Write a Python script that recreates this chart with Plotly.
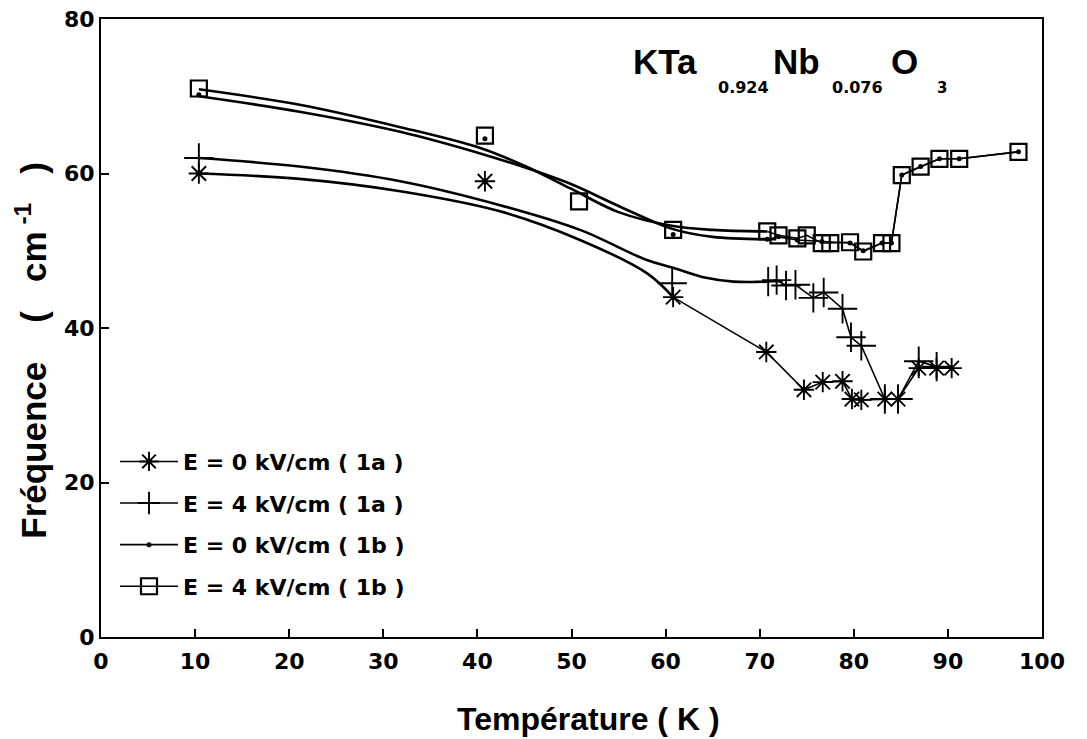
import plotly.graph_objects as go

# ---------------- data ----------------
# E = 0 kV/cm (1a)  -- asterisks
t_e0_1a = [10.4, 40.8, 60.8, 70.7, 74.7, 76.7, 78.8, 79.8, 80.8, 83.3, 84.7, 86.9, 88.8, 90.4]
f_e0_1a = [60.0, 59.0, 44.0, 36.9, 32.0, 33.0, 33.1, 30.8, 30.7, 30.8, 30.8, 34.8, 34.8, 34.8]
fit_t_e0_1a = [10.4, 21.1, 31.8, 42.4, 50.9, 58.0, 60.8]
fit_f_e0_1a = [60.0, 59.3, 57.7, 55.1, 51.4, 47.1, 44.0]

# E = 4 kV/cm (1a)  -- plus signs
t_e4_1a = [10.4, 60.7, 70.9, 71.8, 72.8, 73.8, 75.7, 76.8, 78.8, 79.7, 80.8, 83.3, 84.7, 86.9, 88.8]
f_e4_1a = [62.0, 45.8, 46.0, 46.2, 45.5, 45.6, 43.9, 44.6, 42.5, 38.8, 37.7, 30.8, 30.8, 35.7, 35.0]
fit_t_e4_1a = [10.4, 21.1, 31.8, 42.4, 50.9, 58.0, 60.8, 64.3, 67.2, 70.9]
fit_f_e4_1a = [62.0, 60.9, 59.0, 55.9, 52.7, 48.8, 47.8, 46.5, 46.0, 46.0]

# E = 0 kV/cm (1b)  -- dots
t_e0_1b = [10.4, 40.8, 60.8, 70.8, 72.0, 74.0, 76.6, 79.6, 81.0, 83.0, 84.0, 85.1, 87.1, 89.1, 91.2, 97.5]
f_e0_1b = [70.2, 64.5, 52.1, 51.5, 51.8, 51.4, 51.2, 51.0, 50.0, 51.0, 51.0, 59.8, 60.9, 61.9, 61.9, 62.8]
fit_t_e0_1b = [10.4, 21.1, 31.8, 40.3, 45.0, 50.0, 55.0, 60.8, 65.0, 70.8]
fit_f_e0_1b = [70.0, 68.0, 65.4, 62.6, 60.8, 58.6, 55.8, 52.8, 51.8, 51.5]

# E = 4 kV/cm (1b)  -- open squares
t_e4_1b = [10.4, 40.8, 50.8, 60.8, 70.8, 72.0, 74.0, 75.0, 76.6, 77.5, 79.6, 81.0, 83.0, 84.0, 85.1, 87.1, 89.1, 91.2, 97.5]
f_e4_1b = [71.0, 64.9, 56.4, 52.7, 52.5, 52.0, 51.6, 52.0, 51.0, 51.0, 51.1, 49.9, 51.0, 51.0, 59.8, 60.9, 61.9, 61.9, 62.8]
fit_t_e4_1b = [10.4, 21.1, 31.8, 40.3, 45.0, 50.0, 55.0, 60.8, 65.0, 70.8]
fit_f_e4_1b = [70.9, 68.9, 66.0, 63.3, 61.0, 58.0, 55.0, 53.2, 52.7, 52.5]

legend_labels = ["E = 0 kV/cm ( 1a )", "E = 4 kV/cm ( 1a )",
                 "E = 0 kV/cm ( 1b )", "E = 4 kV/cm ( 1b )"]

x_ticks = [0, 10, 20, 30, 40, 50, 60, 70, 80, 90, 100]
y_ticks = [0, 20, 40, 60, 80]

# ---------------- figure ----------------
BLACK = "black"
FONT = "Liberation Sans"
WIDE = "DejaVu Sans"
NB = "\u00a0"

OFF = 8  # page body margin of the browser
W, H = 1087 - OFF, 739 - OFF
L, T = 101 - OFF, 19 - OFF
R = W - (1042 - OFF)
B = H - (637.5 - OFF)
PW, PH = W - L - R, H - T - B

def px_to_paper(px, py):
    # px, py: pixel position in the screenshot
    return (px - OFF - L) / PW, (H - B - (py - OFF)) / PH

fig = go.Figure()

def add_series(name, group, t, f, fit_t, fit_f, n_left, marker):
    fig.add_trace(go.Scatter(x=fit_t, y=fit_f, mode="lines", line=dict(color=BLACK, width=2.6, shape="spline"),
                             legendgroup=group, showlegend=False, hoverinfo="skip"))
    fig.add_trace(go.Scatter(x=t[:n_left], y=f[:n_left], mode="markers", marker=marker,
                             legendgroup=group, showlegend=False))
    fig.add_trace(go.Scatter(x=t[n_left:], y=f[n_left:], mode="lines+markers", marker=marker,
                             line=dict(color=BLACK, width=1.6), name=name, legendgroup=group, showlegend=True))

star = dict(symbol="asterisk-open", size=17, color=BLACK, line=dict(color=BLACK, width=1.9))
plus = dict(symbol="cross-thin-open", size=21, color=BLACK, line=dict(color=BLACK, width=1.9))
dot = dict(symbol="circle", size=5, color=BLACK)
square = dict(symbol="square-open", size=16, color=BLACK, line=dict(color=BLACK, width=2.2))

add_series(legend_labels[0], "g1", t_e0_1a, f_e0_1a, fit_t_e0_1a, fit_f_e0_1a, 2, star)
add_series(legend_labels[1], "g2", t_e4_1a, f_e4_1a, fit_t_e4_1a, fit_f_e4_1a, 2, plus)
add_series(legend_labels[2], "g3", t_e0_1b, f_e0_1b, fit_t_e0_1b, fit_f_e0_1b, 3, dot)
add_series(legend_labels[3], "g4", t_e4_1b, f_e4_1b, fit_t_e4_1b, fit_f_e4_1b, 4, square)

axis_common = dict(showgrid=False, zeroline=False, showline=True, linecolor=BLACK, linewidth=2,
                   mirror=True, ticks="inside", ticklen=8, tickwidth=1.5, tickcolor=BLACK,
                   automargin=False, ticklabeloverflow="allow",
                   tickfont=dict(family=WIDE, size=22, color=BLACK, weight="bold"))

lx, ly = px_to_paper(115, 441)
fig.update_layout(
    width=W, height=H,
    margin=dict(l=L, r=R, t=T, b=B, autoexpand=False),
    paper_bgcolor="white", plot_bgcolor="white",
    xaxis=dict(range=[0, 100], tickvals=x_ticks, ticktext=[str(v) for v in x_ticks],
               ticklabelstandoff=4, **axis_common),
    yaxis=dict(range=[0, 80], tickvals=y_ticks, ticktext=[str(v) for v in y_ticks],
               ticklabelstandoff=0, **axis_common),
    legend=dict(x=lx, y=ly, xanchor="left", yanchor="top", bgcolor="rgba(0,0,0,0)",
                font=dict(family=WIDE, size=22, color=BLACK, weight="bold"),
                itemwidth=58, tracegroupgap=10, traceorder="grouped"),
    showlegend=True,
)

# axis titles
ax, ay = px_to_paper(588, 720)
fig.add_annotation(text="Température ( K )", xref="paper", yref="paper", x=ax, y=ay,
                   xanchor="center", yanchor="middle", showarrow=False,
                   font=dict(family=FONT, size=32, color=BLACK, weight="bold"))
ax, ay = px_to_paper(31, 351)
fig.add_annotation(text="Fréquence" + NB * 4 + "(" + NB * 3 + "cm<sup>" + NB + "-1</sup>" + NB * 3 + ")",
                   xref="paper", yref="paper", x=ax, y=ay, textangle=-90,
                   xanchor="center", yanchor="middle", showarrow=False,
                   font=dict(family=FONT, size=35, color=BLACK, weight="bold"))

# compound formula label
title_parts = [
    ("KTa", 631, 62, 35, "bold", FONT),
    ("0.924", 716, 88, 16, "bold", WIDE),
    ("Nb", 771, 62, 35, "bold", FONT),
    ("0.076", 830, 88, 16, "bold", WIDE),
    ("O", 889, 62, 35, "bold", FONT),
    ("3", 935, 88, 15, "bold", WIDE),
]
for txt, px, py, fs, fw, fam in title_parts:
    ax, ay = px_to_paper(px, py)
    fig.add_annotation(text=txt, xref="paper", yref="paper", x=ax, y=ay,
                       xanchor="left", yanchor="middle", showarrow=False,
                       font=dict(family=fam, size=fs, color=BLACK, weight=fw))

fig.write_html("out.html")
